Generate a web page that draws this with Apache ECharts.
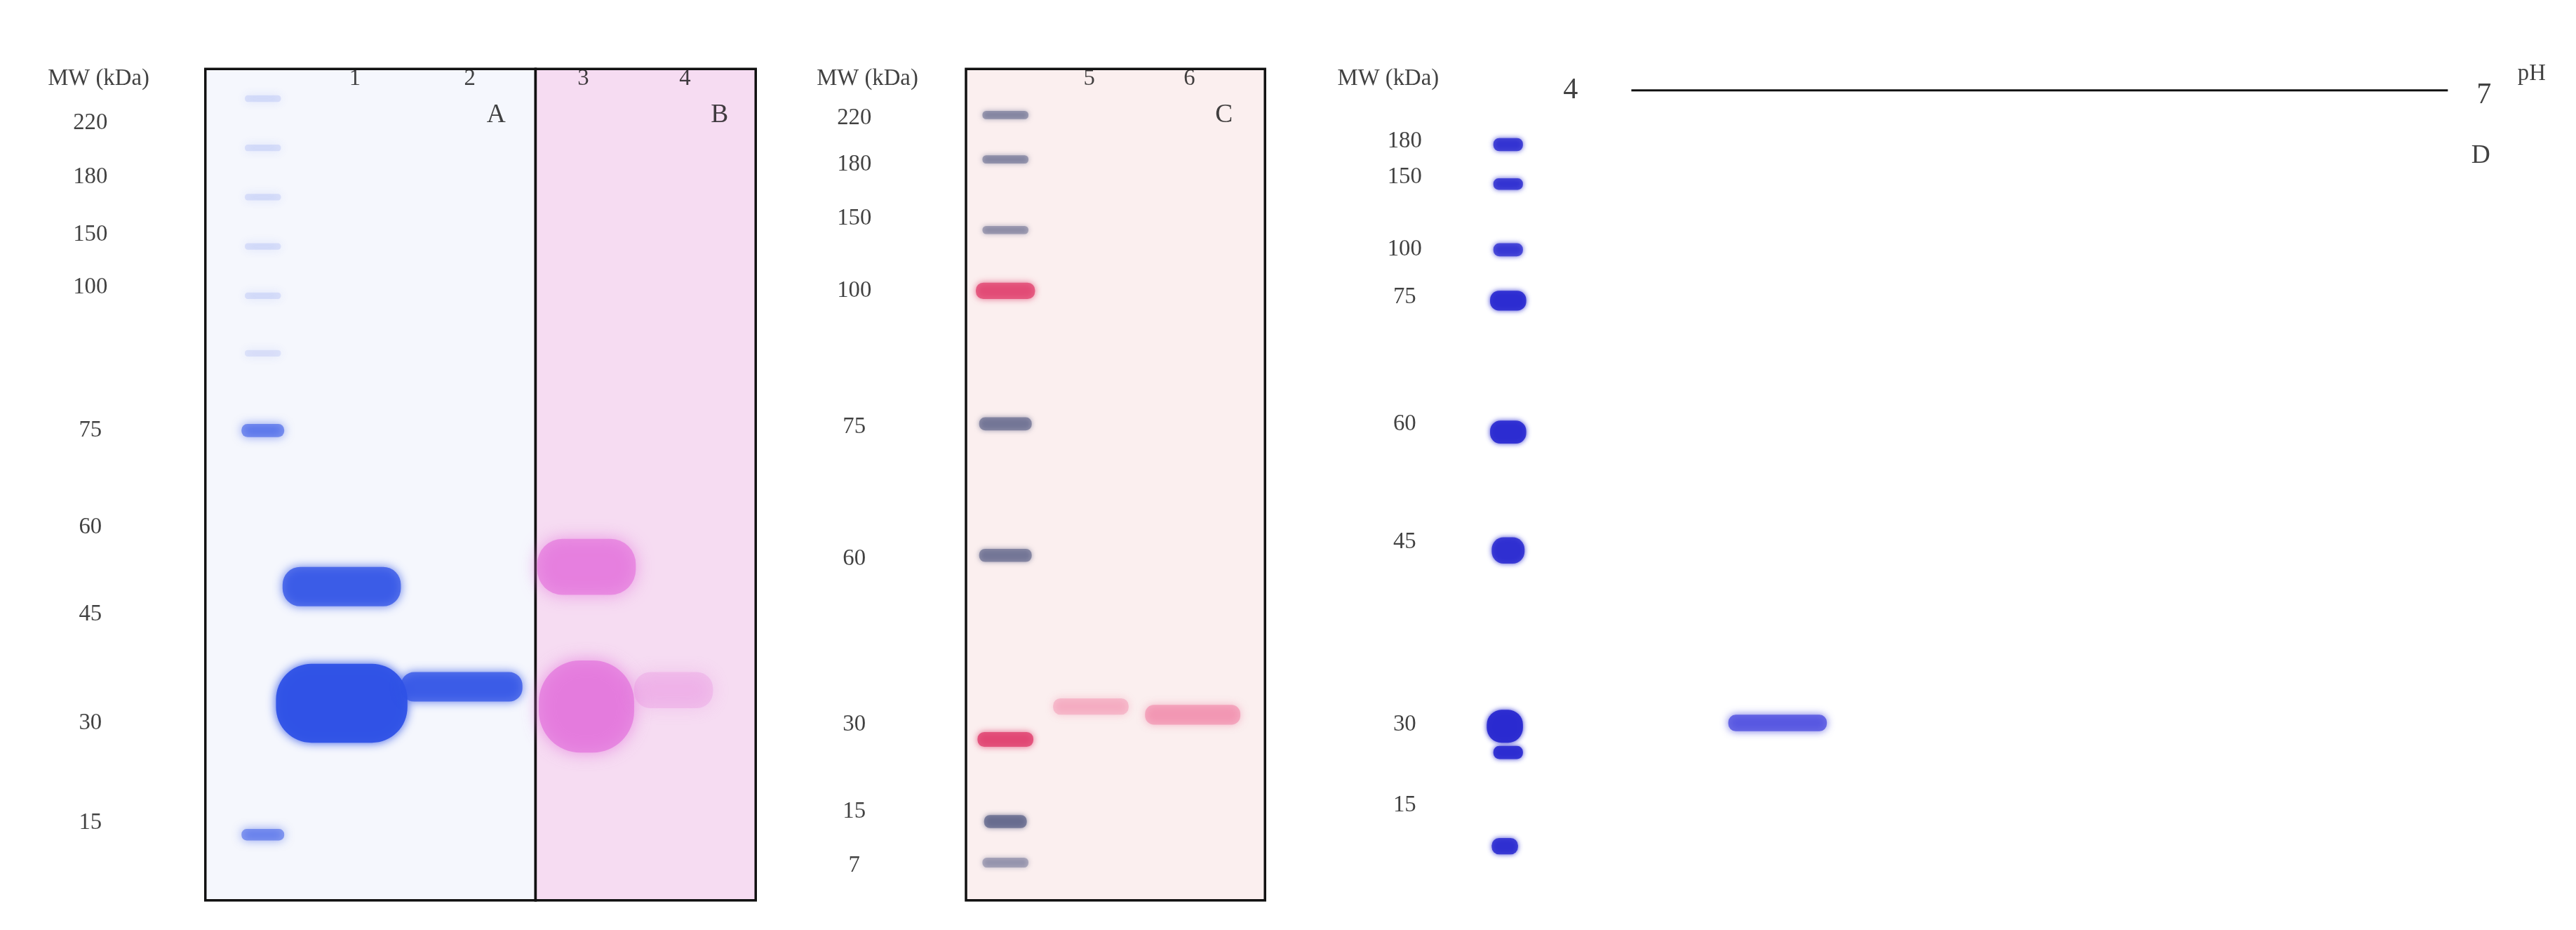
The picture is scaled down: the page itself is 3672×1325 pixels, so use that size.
<!DOCTYPE html>
<html>
<head>
<meta charset="utf-8">
<script src="https://cdn.jsdelivr.net/npm/echarts@6/dist/echarts.min.js"></script>
<style>html,body{margin:0;padding:0;background:#fff}#main{width:3672px;height:1325px}</style>
</head>
<body>
<div id="main"></div>
<script>
// figure units: 1568 x 566 (scaled to the 3672 x 1325 page)
var S = 3672 / 1568;
var FONT = '"Liberation Serif", serif';

// MW ladders: label and migration position
var mwA = ['220', '180', '150', '100', '75', '60', '45', '30', '15'];
var mwApos = [75, 108, 143, 175, 262, 321, 374, 440, 501];
var mwC = ['220', '180', '150', '100', '75', '60', '30', '15', '7'];
var mwCpos = [72, 100, 133, 177, 260, 340, 441, 494, 527];
var mwD = ['180', '150', '100', '75', '60', '45', '30', '15'];
var mwDpos = [86, 108, 152, 181, 258, 330, 441, 490];

// lanes
var lanes = ['1', '2', '3', '4', '5', '6'];
var laneX = [216, 286, 355, 417, 663, 724];
var panels = ['A', 'B', 'C', 'D'];
var panelX = [302, 438, 745, 1510];
var panelY = [70, 70, 70, 95];

// bands [x, y, width, height, opacity]
var bandsBlueA = [
  [160, 262, 26, 8, 0.55], [160, 508, 26, 7, 0.5], [160, 60, 22, 4, 0.12], [160, 90, 22, 4, 0.12],
  [160, 120, 22, 4, 0.12], [160, 150, 22, 4, 0.12], [160, 180, 22, 4, 0.12], [160, 215, 22, 4, 0.1],
  [208, 357, 72, 24, 0.75], [208, 428, 80, 48, 0.95], [281, 418, 74, 18, 0.75]
];
var bandsPinkB = [
  [357, 345, 60, 34, 0.65], [357, 430, 58, 56, 0.7], [410, 420, 48, 22, 0.22]
];
var ladderC = [
  [612, 70, 28, 5, 0.5], [612, 97, 28, 5, 0.5], [612, 140, 28, 5, 0.45], [612, 258, 32, 8, 0.6],
  [612, 338, 32, 8, 0.6], [612, 500, 26, 8, 0.7], [612, 525, 28, 6, 0.4]
];
var ladderCred = [[612, 177, 36, 10, 0.75], [612, 450, 34, 9, 0.8]];
var bandsC = [[664, 430, 46, 10, 0.35], [726, 435, 58, 12, 0.5]];
var ladderD = [
  [918, 88, 18, 8, 0.8], [918, 112, 18, 7, 0.8], [918, 152, 18, 8, 0.75], [918, 183, 22, 12, 0.9],
  [918, 263, 22, 14, 0.9], [918, 335, 20, 16, 0.85], [916, 442, 22, 20, 0.95], [918, 458, 18, 8, 0.9],
  [916, 515, 16, 10, 0.85]
];
var spotD = [[1082, 440, 60, 10, 0.8]];

function bandSeries(data, color, blur) {
  return {
    type: 'custom', data: data, silent: true,
    renderItem: function (params, api) {
      var c = api.coord([api.value(0), api.value(1)]);
      var w = api.value(2) * S, h = api.value(3) * S;
      return {
        type: 'rect',
        shape: { x: c[0] - w / 2, y: c[1] - h / 2, width: w, height: h, r: Math.min(w, h) * 0.45 },
        style: { fill: color, opacity: api.value(4), shadowBlur: blur * S, shadowColor: color }
      };
    }
  };
}

function rectSeries(data, fill, stroke) {
  return {
    type: 'custom', data: data, silent: true,
    renderItem: function (params, api) {
      var a = api.coord([api.value(0), api.value(1)]);
      var b = api.coord([api.value(2), api.value(3)]);
      return {
        type: 'rect',
        shape: { x: a[0], y: a[1], width: b[0] - a[0], height: b[1] - a[1] },
        style: { fill: fill, stroke: stroke, lineWidth: 1.5 * S }
      };
    }
  };
}

function textSeries(xs, ys, labels, size, align) {
  return {
    type: 'scatter', symbolSize: 0, silent: true,
    data: labels.map(function (t, i) { return { value: [xs[i], ys[i]], name: t }; }),
    label: {
      show: true, position: 'inside', formatter: '{b}', color: '#111',
      fontFamily: FONT, fontSize: size * S, align: align || 'center'
    }
  };
}

function fill(v, n) { var a = []; for (var i = 0; i < n; i++) a.push(v); return a; }

var chart = echarts.init(document.getElementById('main'));
chart.setOption({
  animation: false,
  backgroundColor: '#fff',
  grid: { left: 0, right: 0, top: 0, bottom: 0 },
  xAxis: { type: 'value', min: 0, max: 1568, show: false },
  yAxis: { type: 'value', min: 0, max: 566, inverse: true, show: false },
  series: [
    rectSeries([[125, 42, 326, 548]], '#f5f7fd', '#111'),
    rectSeries([[326, 42, 460, 548]], '#f6dcf2', '#111'),
    rectSeries([[588, 42, 770, 548]], '#fbefef', '#111'),
    bandSeries(bandsBlueA, '#2f52e6', 6),
    bandSeries(bandsPinkB, '#e372dc', 10),
    bandSeries(ladderC, '#5a5f86', 3),
    bandSeries(ladderCred, '#e0406e', 4),
    bandSeries(bandsC, '#f07aa0', 5),
    bandSeries(ladderD, '#2a2ad0', 3),
    bandSeries(spotD, '#5050e0', 5),
    {
      type: 'line', silent: true, symbol: 'none',
      data: [[993, 55], [1490, 55]], lineStyle: { color: '#111', width: 1.2 * S }
    },
    textSeries([60, 528, 845], [48, 48, 48], ['MW (kDa)', 'MW (kDa)', 'MW (kDa)'], 14),
    textSeries(fill(55, mwA.length), mwApos, mwA, 14),
    textSeries(fill(520, mwC.length), mwCpos, mwC, 14),
    textSeries(fill(855, mwD.length), mwDpos, mwD, 14),
    textSeries(laneX, fill(48, lanes.length), lanes, 14),
    textSeries(panelX, panelY, panels, 16),
    textSeries([956, 1512], [55, 58], ['4', '7'], 18),
    textSeries([1541], [45], ['pH'], 14)
  ]
});
</script>
</body>
</html>
